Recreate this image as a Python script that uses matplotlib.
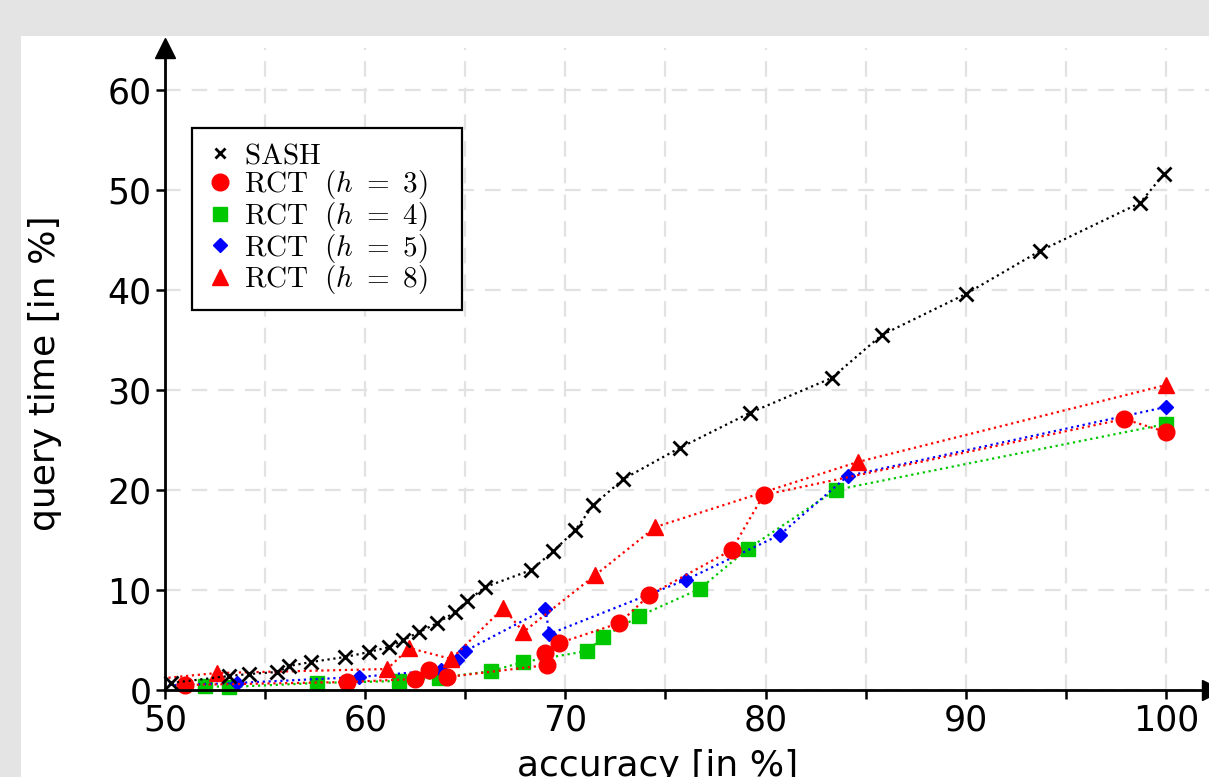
import matplotlib
matplotlib.use("Agg")
import matplotlib.pyplot as plt
from matplotlib.lines import Line2D
from matplotlib.patches import Rectangle
from matplotlib.ticker import MultipleLocator

plt.rcParams['mathtext.fontset'] = 'cm'

# SASH
sash_x = [50.3, 53.2, 54.2, 55.6, 56.2, 57.3, 59.0, 60.2, 61.2, 61.9, 62.7, 63.6, 64.5, 65.1,
          66.0, 68.3, 69.4, 70.5, 71.4, 72.9, 75.7, 79.2, 83.3, 85.8, 90.0, 93.7, 98.7, 99.9]
sash_y = [0.7, 1.4, 1.6, 1.8, 2.4, 2.8, 3.3, 3.8, 4.3, 5.0, 5.8, 6.7, 7.8, 8.9,
          10.3, 12.0, 13.9, 16.0, 18.5, 21.1, 24.2, 27.7, 31.2, 35.5, 39.6, 43.9, 48.7, 51.6]

# RCT h=3
h3_x = [51.0, 59.1, 62.5, 63.2, 64.1, 69.1, 69.0, 69.7, 72.7, 74.2, 78.3, 79.9, 97.9, 100.0]
h3_y = [0.5, 0.8, 1.1, 2.0, 1.3, 2.5, 3.7, 4.7, 6.7, 9.5, 14.0, 19.5, 27.1, 25.8]

# RCT h=4
h4_x = [52.0, 53.2, 57.6, 61.7, 63.7, 66.3, 67.9, 71.1, 71.9, 73.7, 76.7, 79.1, 83.5, 100.0]
h4_y = [0.4, 0.3, 0.7, 0.9, 1.2, 1.9, 2.8, 3.9, 5.3, 7.4, 10.1, 14.1, 20.0, 26.6]

# RCT h=5 (first point lies left of the visible range)
h5_x = [49.0, 53.6, 59.7, 63.8, 64.6, 65.0, 69.0, 69.2, 76.0, 80.7, 84.1, 100.0]
h5_y = [0.4, 0.7, 1.3, 2.0, 3.0, 3.9, 8.1, 5.6, 11.0, 15.5, 21.4, 28.3]

# RCT h=8 (first point lies left of the visible range)
h8_x = [49.0, 52.6, 61.1, 62.2, 64.3, 66.9, 67.9, 71.5, 74.5, 84.6, 100.0]
h8_y = [1.0, 1.7, 2.1, 4.2, 3.1, 8.2, 5.8, 11.5, 16.3, 22.8, 30.5]

W, H = 1209, 777
fig = plt.figure(figsize=(W / 100, H / 100), dpi=100, facecolor='#e4e4e4')
fig.patches.append(Rectangle((21 / W, 0), 1, (H - 36) / H, transform=fig.transFigure,
                             facecolor='white', edgecolor='none', zorder=-10))

xmin, xmax = 50, 102.3
ymin, ymax = 0, 64.2
pxx, pxy = 20.02, 10.0
ax = fig.add_axes([165 / W, 87 / H, (xmax - xmin) * pxx / W, (ymax - ymin) * pxy / H])
ax.patch.set_visible(False)
ax.set_xlim(xmin, xmax)
ax.set_ylim(ymin, ymax)

red = '#ff0000'
green = '#00c800'
blue = '#0000ff'


def series(xs, ys, color, marker, ms, z, mew=1.0):
    ax.plot(xs, ys, ls=':', lw=1.6, color=color, zorder=z)
    px = [x for x in xs if x >= xmin]
    py = [y for x, y in zip(xs, ys) if x >= xmin]
    ax.plot(px, py, ls='none', marker=marker, ms=ms, mew=mew, color=color, mec=color,
            zorder=z, clip_on=False)


series(h4_x, h4_y, green, 's', 10.5, 3)
series(h5_x, h5_y, blue, 'D', 7.5, 4)
series(h3_x, h3_y, red, 'o', 12, 5)
series(h8_x, h8_y, red, '^', 12, 6)
series(sash_x, sash_y, 'black', 'x', 10, 7, mew=2)

# axes and grid
for s in ['top', 'right']:
    ax.spines[s].set_visible(False)
for s in ['left', 'bottom']:
    ax.spines[s].set_linewidth(2)
    ax.spines[s].set_zorder(8)

ax.xaxis.set_minor_locator(MultipleLocator(5))
ax.set_xticks([50, 60, 70, 80, 90, 100])
ax.set_yticks([0, 10, 20, 30, 40, 50, 60])
ax.tick_params(which='both', direction='out', length=6.5, width=1.8, labelsize=25, pad=3)

gk = dict(color='#e2e2e2', lw=1.6, ls=(0, (7, 5)))
ax.grid(True, axis='x', which='both', **gk)
ax.grid(True, axis='y', which='major', **gk)
ax.set_axisbelow(True)

# arrow heads
ax.plot(1, 0, '>', ms=15, color='black', transform=ax.get_yaxis_transform(), clip_on=False, zorder=9)
ax.plot(xmin, 1, '^', ms=15, color='black', transform=ax.get_xaxis_transform(), clip_on=False, zorder=9)

fig.text(45 / W, 1 - 373 / H, 'query time [in %]', rotation=90, ha='center', va='center', fontsize=26)
fig.text(658 / W, 1 - 776 / H, 'accuracy [in %]', ha='center', va='baseline', fontsize=26)

handles = [
    Line2D([], [], ls='none', marker='x', ms=7, mew=2, color='black'),
    Line2D([], [], ls='none', marker='o', ms=12, color=red),
    Line2D([], [], ls='none', marker='s', ms=10.5, color=green),
    Line2D([], [], ls='none', marker='D', ms=7.5, color=blue),
    Line2D([], [], ls='none', marker='^', ms=12, color=red),
]
labels = [r'$\mathrm{SASH}$', r'$\mathrm{RCT}\ \ (h\ =\ 3)$', r'$\mathrm{RCT}\ \ (h\ =\ 4)$',
          r'$\mathrm{RCT}\ \ (h\ =\ 5)$', r'$\mathrm{RCT}\ \ (h\ =\ 8)$']
leg = ax.legend(handles, labels, loc='upper left',
                bbox_to_anchor=((192 - 165) / ((xmax - xmin) * pxx), (690 - 128) / ((ymax - ymin) * pxy)),
                borderaxespad=0, fontsize=21, fancybox=False, framealpha=1, edgecolor='black',
                handlelength=1.0, handletextpad=0.35, labelspacing=-0.04, borderpad=0.45)
leg.set_zorder(10)

# the reference box has more room on the right side of the labels
fig.canvas.draw()
bb = leg.get_window_extent()
leg.get_frame().set_visible(False)
ax.add_patch(Rectangle((bb.x0 / W, bb.y0 / H), (bb.width + 21) / W, bb.height / H,
                       transform=fig.transFigure, facecolor='white', edgecolor='black',
                       lw=1.6, zorder=9.5, clip_on=False))

fig.savefig('out.png', dpi=100, facecolor=fig.get_facecolor())
